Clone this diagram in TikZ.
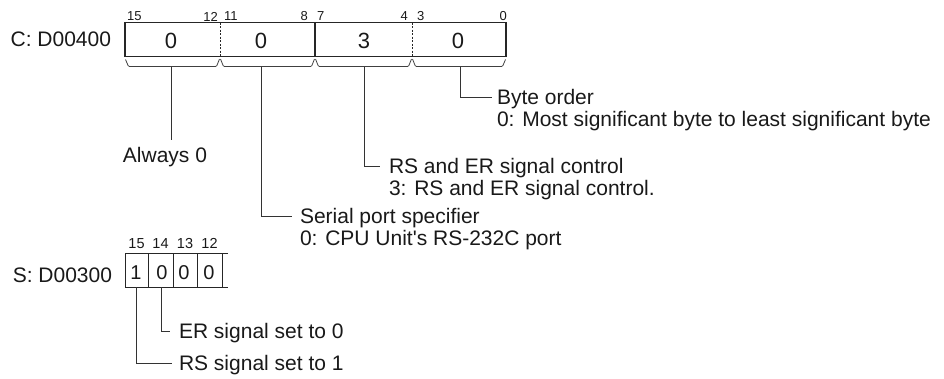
\documentclass[tikz,border=0pt]{standalone}
\usepackage{fontspec}
\setmainfont{Liberation Sans}[Ligatures=TeXOff]
\usetikzlibrary{calc}
\begin{document}
\begin{tikzpicture}[x=1pt,y=-1pt,
  lbl/.style={font=\fontsize{21}{22}\selectfont, inner sep=0pt, outer sep=0pt, align=left, text=black!90},
  bitnum/.style={font=\fontsize{13}{14}\selectfont, inner sep=0pt, text=black!90},
  val/.style={font=\fontsize{22}{24}\selectfont, inner sep=0pt, text=black!90},
  sbitnum/.style={font=\fontsize{14.5}{16}\selectfont, inner sep=0pt, text=black!90},
  sval/.style={font=\fontsize{20}{22}\selectfont, inner sep=0pt, text=black!90},
  boxline/.style={line width=1.2pt, draw=black!85},
  sline/.style={line width=0.9pt, draw=black!85},
  divdash/.style={line width=0.8pt, dash pattern=on 2pt off 1.5pt, draw=black!85},
  bracepath/.style={line width=0.8pt, draw=black!75, rounded corners=1pt},
  conn/.style={line width=0.9pt, draw=black!80},
]
\useasboundingbox (0,0) rectangle (944,378);

% ---------- C: D00400 ----------
\node[lbl, anchor=east] (cname) at (111,39.5) {C: D00400};
\node[boxline, draw, minimum width=381pt, minimum height=34pt, inner sep=0pt, outer sep=0pt, anchor=north west] (cbox) at (125,22.7) {};
\draw[divdash] (220,22.7) -- (220,56.7);
\draw[boxline] (315,22.7) -- (315,56.7);
\draw[divdash] (412,22.7) -- (412,56.7);

\node[val] (v1) at (171,41) {0};
\node[val] (v2) at (261,41) {0};
\node[val] (v3) at (364,41) {3};
\node[val] (v4) at (458,41) {0};

\node[bitnum, anchor=west] (n15) at (127,16.5) {15};
\node[bitnum, anchor=east] (n12) at (218,16.5) {12};
\node[bitnum, anchor=west] (n11) at (224,16.5) {11};
\node[bitnum, anchor=east] (n8) at (308,16.5) {8};
\node[bitnum, anchor=west] (n7) at (317,16.5) {7};
\node[bitnum, anchor=east] (n4) at (408,16.5) {4};
\node[bitnum, anchor=west] (n3) at (417,16.5) {3};
\node[bitnum, anchor=east] (n0) at (507,16.5) {0};

% braces
\draw[bracepath] (125.5,59.5) -- (128.5,66.5) -- (216.5,66.5) -- (219.5,59);
\draw[bracepath] (220.5,59) -- (223.5,66.5) -- (311.5,66.5) -- (314.5,59);
\draw[bracepath] (315.5,59) -- (318.5,66.5) -- (408.5,66.5) -- (411.5,59);
\draw[bracepath] (412.5,59) -- (415.5,66.5) -- (502.5,66.5) -- (505.5,59.5);

\coordinate (s1) at (171,66.5);
\coordinate (s2) at (261,66.5);
\coordinate (s3) at (364,66.5);
\coordinate (s4) at (460,66.5);

% labels and connectors
\node[lbl, anchor=north] (always) at (165,147.5) {Always 0};
\draw[conn] (s1) -- ($(s1 |- always.north)+(0,-7.5)$);

\node[lbl, anchor=north west] (byte) at (497,89.5) {Byte order\\0: Most significant byte to least significant byte};
\draw[conn] (s4) |- ($(byte.north west)+(-5,7.5)$);

\node[lbl, anchor=north west] (rser) at (389,158.5) {RS and ER signal control\\3: RS and ER signal control.};
\draw[conn] (s3) |- ($(rser.north west)+(-9,7.5)$);

\node[lbl, anchor=north west] (serial) at (300,208.5) {Serial port specifier\\0: CPU Unit's RS-232C port};
\draw[conn] (s2) |- ($(serial.north west)+(-8,7.5)$);

% ---------- S: D00300 ----------
\node[lbl, anchor=east] (sname) at (112,275.5) {S: D00300};
\draw[sline] (228,253) -- (125,253) -- (125,287) -- (228,287);
\draw[sline] (222,253) -- (222,287);
\draw[sline] (148,253) -- (148,287);
\draw[sline] (173,253) -- (173,287);
\draw[sline] (197,253) -- (197,287);

\node[sbitnum] (m15) at (136.5,243.5) {15};
\node[sbitnum] (m14) at (160.5,243.5) {14};
\node[sbitnum] (m13) at (185,243.5) {13};
\node[sbitnum] (m12) at (209.5,243.5) {12};

\node[sval] (d15) at (136,273) {1};
\node[sval] (d14) at (162,273) {0};
\node[sval] (d13) at (184,273) {0};
\node[sval] (d12) at (209,273) {0};

\coordinate (rsbit) at (136,287);
\coordinate (erbit) at (161,287);

\node[lbl, anchor=north west] (er) at (179,323.5) {ER signal set to 0};
\draw[conn] (erbit) |- ($(er.north west)+(-9,7.5)$);
\node[lbl, anchor=north west] (rs) at (179,355.5) {RS signal set to 1};
\draw[conn] (rsbit) |- ($(rs.north west)+(-7,7.5)$);
\end{tikzpicture}
\end{document}
